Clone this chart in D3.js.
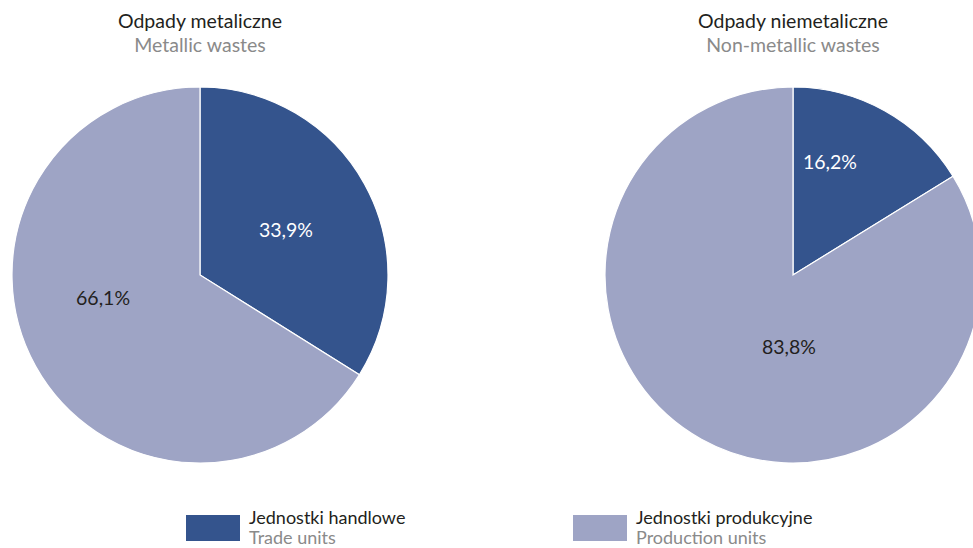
<!DOCTYPE html>
<html><head><meta charset="utf-8">
<script src="https://cdn.jsdelivr.net/npm/d3@7"></script>
<style>body{margin:0;background:#fff}svg{display:block;font-family:Lato,"Open Sans",sans-serif}</style>
</head><body>
<svg id="c" width="973" height="548"></svg>
<script>
const titlesPL = ["Odpady metaliczne", "Odpady niemetaliczne"];
const titlesEN = ["Metallic wastes", "Non-metallic wastes"];
const categoriesPL = ["Jednostki handlowe", "Jednostki produkcyjne"];
const categoriesEN = ["Trade units", "Production units"];
const metallic = [33.9, 66.1];
const nonMetallic = [16.2, 83.8];
const series = [metallic, nonMetallic];

// layout config (label placement: angle in degrees from top, radius fraction)
const labelPlacement = [[[62.4, 0.516], [256.7, 0.53]], [[18.1, 0.633], [183.2, 0.383]]];
const colors = ["#34548d", "#9ea4c5"];
const labelColors = ["#ffffff", "#231f20"];
const centers = [[200, 275], [793, 275]];
const R = 188;
const FS = 19.5;
const LFS = 18;

const svg = d3.select("#c");
const pie = d3.pie().sort(null).value(d => d);
const arc = d3.arc().innerRadius(0).outerRadius(R);
const fmt = v => v.toFixed(1).replace(".", ",") + "%";

series.forEach((vals, i) => {
  const g = svg.append("g").attr("transform", `translate(${centers[i][0]},${centers[i][1]})`);
  const arcs = pie(vals);
  g.selectAll("path").data(arcs).join("path")
    .attr("d", arc).attr("fill", (d, j) => colors[j])
    .attr("stroke", "#fff").attr("stroke-width", 1.2);
  g.selectAll("text.lbl").data(arcs).join("text").attr("class", "lbl")
    .attr("x", (d, j) => Math.sin(labelPlacement[i][j][0] * Math.PI / 180) * labelPlacement[i][j][1] * R)
    .attr("y", (d, j) => -Math.cos(labelPlacement[i][j][0] * Math.PI / 180) * labelPlacement[i][j][1] * R)
    .attr("dy", "0.35em").attr("text-anchor", "middle")
    .attr("font-size", FS).attr("fill", (d, j) => labelColors[j])
    .text(d => fmt(d.data));
  svg.append("text").attr("x", centers[i][0]).attr("y", 28).attr("text-anchor", "middle")
    .attr("font-size", FS).attr("fill", "#231f20").text(titlesPL[i]);
  svg.append("text").attr("x", centers[i][0]).attr("y", 52).attr("text-anchor", "middle")
    .attr("font-size", FS).attr("fill", "#8a8a8a").text(titlesEN[i]);
});

const legX = [186, 573];
categoriesPL.forEach((c, j) => {
  const g = svg.append("g").attr("transform", `translate(${legX[j]},515)`);
  g.append("rect").attr("width", 54).attr("height", 26).attr("fill", colors[j]);
  g.append("text").attr("x", 63).attr("y", 9).attr("font-size", LFS).attr("fill", "#231f20").text(c);
  g.append("text").attr("x", 63).attr("y", 29).attr("font-size", LFS).attr("fill", "#8a8a8a").text(categoriesEN[j]);
});
</script>
</body></html>
